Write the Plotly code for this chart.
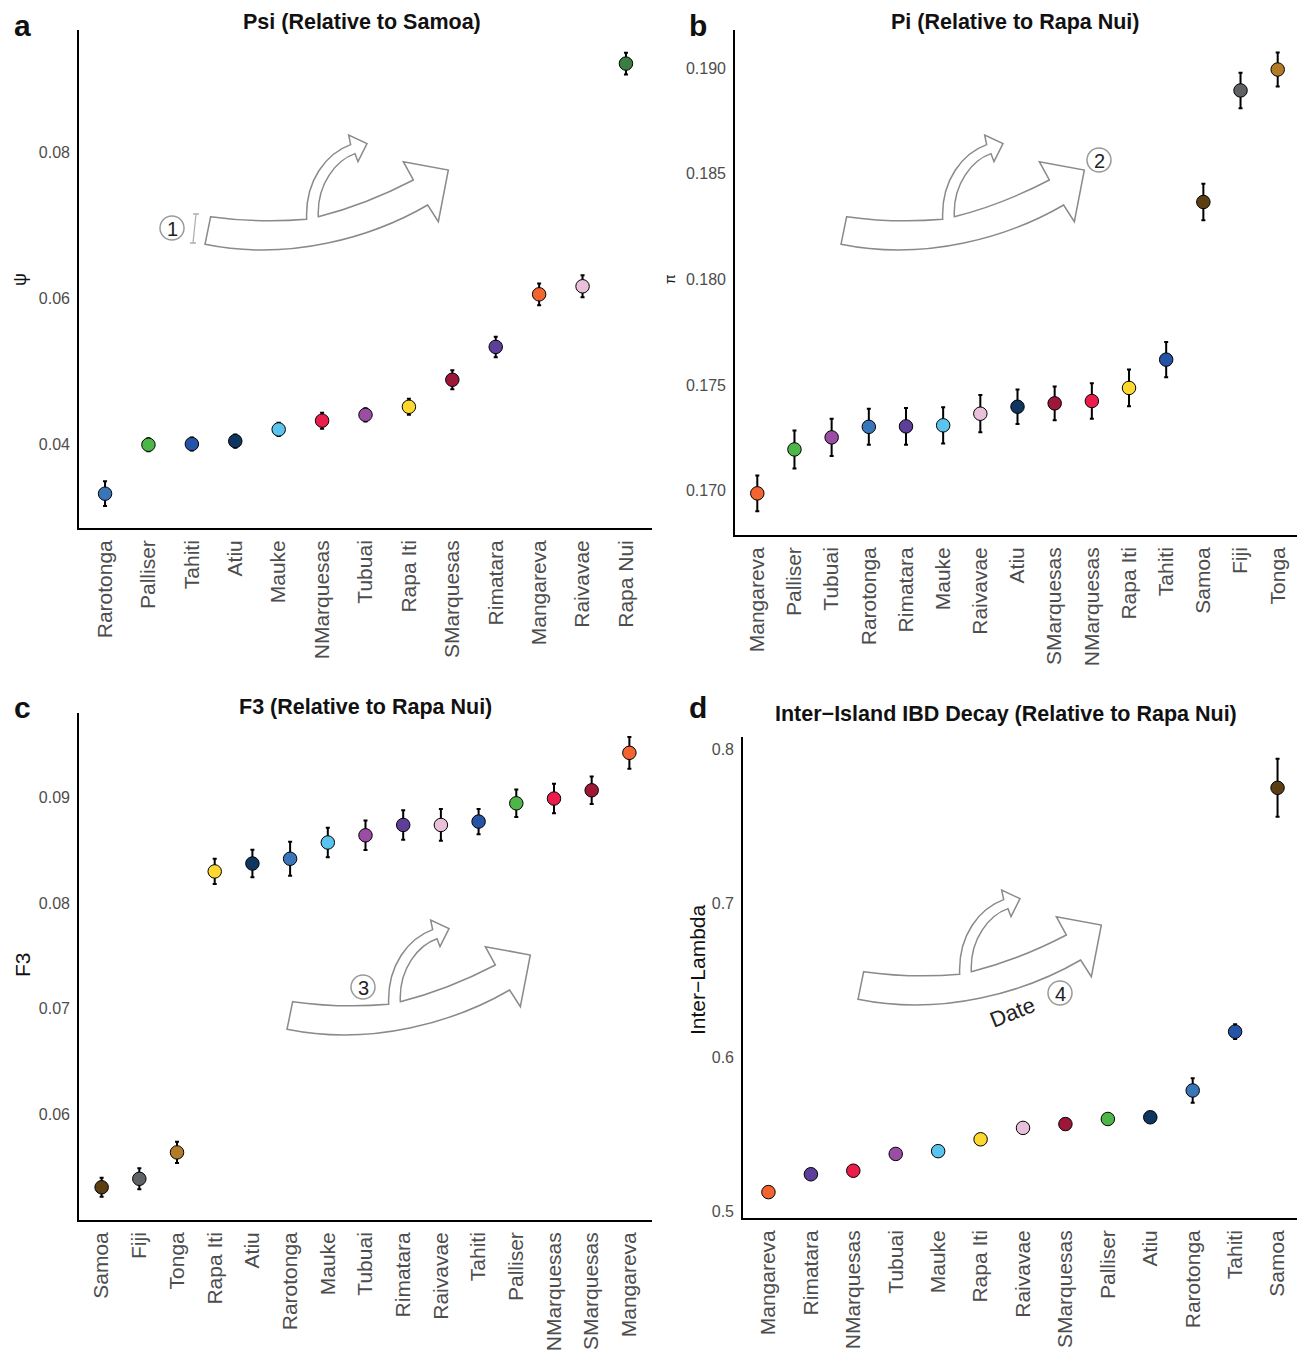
import plotly.graph_objects as go

# reference canvas (screenshot) size; the page body adds an 8px margin
REF_W, REF_H = 1305, 1353
OFF = 8
W, H = REF_W - OFF, REF_H - OFF

# ---------------- data ----------------
psi_islands = ["Rarotonga", "Palliser", "Tahiti", "Atiu", "Mauke", "NMarquesas", "Tubuai",
               "Rapa Iti", "SMarquesas", "Rimatara", "Mangareva", "Raivavae", "Rapa Nui"]
psi_values = [0.0332, 0.0399, 0.0400, 0.0404, 0.0420, 0.0432, 0.0440,
              0.0451, 0.0488, 0.0533, 0.0605, 0.0616, 0.0921]
psi_err = [0.0017, 0.0009, 0.0009, 0.0009, 0.0009, 0.0011, 0.0009,
           0.0011, 0.0013, 0.0014, 0.0015, 0.0015, 0.0015]

pi_islands = ["Mangareva", "Palliser", "Tubuai", "Rarotonga", "Rimatara", "Mauke", "Raivavae",
              "Atiu", "SMarquesas", "NMarquesas", "Rapa Iti", "Tahiti", "Samoa", "Fiji", "Tonga"]
pi_values = [0.16987, 0.17195, 0.17252, 0.17302, 0.17304, 0.17309, 0.17364,
             0.17397, 0.17413, 0.17424, 0.17486, 0.17620, 0.18366, 0.18894, 0.18993]
pi_err = [0.00085, 0.00090, 0.00088, 0.00085, 0.00087, 0.00086, 0.00088,
          0.00082, 0.00080, 0.00084, 0.00087, 0.00083, 0.00086, 0.00084, 0.00080]

f3_islands = ["Samoa", "Fiji", "Tonga", "Rapa Iti", "Atiu", "Rarotonga", "Mauke", "Tubuai",
              "Rimatara", "Raivavae", "Tahiti", "Palliser", "NMarquesas", "SMarquesas", "Mangareva"]
f3_values = [0.0531, 0.0539, 0.0564, 0.0830, 0.08375, 0.0842, 0.08574, 0.08642,
             0.0874, 0.0874, 0.08772, 0.08945, 0.0899, 0.09068, 0.09423]
f3_err = [0.0009, 0.0010, 0.0010, 0.0012, 0.0013, 0.0016, 0.0014, 0.0014,
          0.0014, 0.0015, 0.0012, 0.0013, 0.0014, 0.0013, 0.0015]

ibd_islands = ["Mangareva", "Rimatara", "NMarquesas", "Tubuai", "Mauke", "Rapa Iti", "Raivavae",
               "SMarquesas", "Palliser", "Atiu", "Rarotonga", "Tahiti", "Samoa"]
ibd_values = [0.5123, 0.5239, 0.5262, 0.5371, 0.5389, 0.5466, 0.5540,
              0.5565, 0.5598, 0.5609, 0.5783, 0.6165, 0.7748]
ibd_err = [0.0010, 0.0025, 0.0015, 0.0018, 0.0012, 0.0012, 0.0030,
           0.0020, 0.0020, 0.0012, 0.0080, 0.0048, 0.0188]

# ---------------- styles ----------------
island_colors = {
    "Rarotonga": "#3876b9", "Palliser": "#4cb748", "Tahiti": "#2553a5", "Atiu": "#0f365f",
    "Mauke": "#5ac3ee", "NMarquesas": "#ec1c4b", "Tubuai": "#9b4ca3", "Rapa Iti": "#fdd82e",
    "SMarquesas": "#9e1638", "Rimatara": "#5d3e98", "Mangareva": "#f26531", "Raivavae": "#e9c0da",
    "Rapa Nui": "#3b7e43", "Samoa": "#5b3f12", "Fiji": "#5e6264", "Tonga": "#b17b28",
}

FONT = "Liberation Sans, Arial, Helvetica, sans-serif"
TICKCOL = "#4d4d4d"


def PX(x):
    return (x - OFF) / W


def PY(y):
    return 1 - (y - OFF) / H


panels = [
    # islands, values, err, xaxis, yaxis, xdom(px), ydom(px top,bottom), yrange, tickvals, fmt
    (psi_islands, psi_values, psi_err, "x", "y", (79, 652), (30, 528), (0.0285, 0.0967),
     [0.04, 0.06, 0.08], ".2f"),
    (pi_islands, pi_values, pi_err, "x2", "y2", (735, 1300), (30, 535), (0.1679, 0.1918),
     [0.170, 0.175, 0.180, 0.185, 0.190], ".3f"),
    (f3_islands, f3_values, f3_err, "x3", "y3", (79, 652), (713, 1220), (0.0500, 0.0980),
     [0.06, 0.07, 0.08, 0.09], ".2f"),
    (ibd_islands, ibd_values, ibd_err, "x4", "y4", (743, 1303), (737, 1218), (0.4955, 0.8078),
     [0.5, 0.6, 0.7, 0.8], ".1f"),
]

fig = go.Figure()
layout_axes = {}
for i, (isl, vals, errs, xa, ya, xd, yd, yr, tv, fmt) in enumerate(panels):
    fig.add_trace(go.Scatter(
        x=isl, y=vals, mode="markers", xaxis=xa, yaxis=ya, showlegend=False,
        marker=dict(size=13.5, color=[island_colors[k] for k in isl],
                    line=dict(color="black", width=1)),
        error_y=dict(type="data", array=errs, visible=True, color="black",
                     thickness=2, width=2),
    ))
    n = len(isl)
    xname = "xaxis" if i == 0 else f"xaxis{i+1}"
    yname = "yaxis" if i == 0 else f"yaxis{i+1}"
    layout_axes[xname] = dict(
        domain=[PX(xd[0]), PX(xd[1])], anchor=ya, type="category",
        categoryorder="array", categoryarray=isl, range=[-0.6, n - 0.4],
        showline=True, linecolor="black", linewidth=1.6, showgrid=False, zeroline=False,
        ticks="", tickangle=-90, tickfont=dict(family=FONT, size=21, color=TICKCOL),
        ticklabelstandoff=2, fixedrange=True,
    )
    layout_axes[yname] = dict(
        domain=[PY(yd[1]), PY(yd[0])], anchor=xa, range=list(yr),
        showline=True, linecolor="black", linewidth=1.6, showgrid=False, zeroline=False,
        ticks="", tickvals=tv, tickformat=fmt,
        tickfont=dict(family=FONT, size=16, color=TICKCOL), ticklabelstandoff=4,
        fixedrange=True,
    )

annotations = []
# panel letters
for letter, (x, y) in zip("abcd", [(22, 8), (698, 8), (22, 690), (698, 690)]):
    annotations.append(dict(text=f"<b>{letter}</b>", x=PX(x), y=PY(y), xref="paper", yref="paper",
                            showarrow=False, font=dict(family=FONT, size=30, color="#111"),
                            xanchor="center", yanchor="top", borderpad=0))
# titles
for txt, (x, y) in zip(["Psi (Relative to Samoa)", "Pi (Relative to Rapa Nui)",
                        "F3 (Relative to Rapa Nui)", "Inter\u2212Island IBD Decay (Relative to Rapa Nui)"],
                       [(362, 22), (1015, 22), (365, 707), (1006, 714)]):
    annotations.append(dict(text=f"<b>{txt}</b>", x=PX(x), y=PY(y), xref="paper", yref="paper",
                            showarrow=False, font=dict(family=FONT, size=21.5, color="#111"),
                            xanchor="center", yanchor="middle"))
# y axis titles
for txt, (x, y), sz in [("\u03c8", (20, 280), 18), ("\u03c0", (670, 279), 14),
                        ("F3", (22, 965), 21), ("Inter\u2212Lambda", (697, 970), 21)]:
    annotations.append(dict(text=txt, x=PX(x), y=PY(y), xref="paper", yref="paper", textangle=-90,
                            showarrow=False, font=dict(family=FONT, size=sz, color="#111"),
                            xanchor="center", yanchor="middle"))

# ---------------- decorative arrows ----------------
# template in local px units (zoomed 3x coordinates / 3)
T = [("M", [(212, 290)]), ("Q", [(355, 310), (500, 298)]),
     ("C", [(495, 180), (560, 100), (632, 74)]), ("L", [(626, 45)]), ("L", [(681, 71)]),
     ("L", [(654, 125)]), ("L", [(645, 101)]), ("C", [(590, 120), (530, 190), (535, 290)]),
     ("Q", [(676, 255), (820, 180)]), ("L", [(790, 125)]), ("L", [(925, 150)]),
     ("L", [(895, 305)]), ("L", [(863, 255)]), ("C", [(700, 350), (450, 425), (195, 373)])]


def arrow_path(ox, oy):
    parts = []
    for cmd, pts in T:
        coords = " ".join(f"{PX(ox + px / 3):.5f},{PY(oy + py / 3):.5f}" for px, py in pts)
        parts.append(f"{cmd} {coords}")
    return " ".join(parts) + " Z"


shapes = []
for ox, oy in [(140, 120), (776, 120), (222, 905), (793, 875)]:
    shapes.append(dict(type="path", xref="paper", yref="paper", path=arrow_path(ox, oy),
                       fillcolor="white", line=dict(color="#8a8a8a", width=1.5), layer="above"))

# bracket next to circled 1
bx, by0, by1 = 196, 214, 243
br = (f"M {PX(bx-3)},{PY(by0)} L {PX(bx+3)},{PY(by0)} M {PX(bx)},{PY(by0)} L {PX(bx-3)},{PY(by1)} "
      f"M {PX(bx-6)},{PY(by1)} L {PX(bx)},{PY(by1)}")
shapes.append(dict(type="path", xref="paper", yref="paper", path=br,
                   line=dict(color="#b0b0b0", width=1.3), layer="above"))

for num, (cx, cy) in zip("1234", [(172, 228), (1099, 160), (363, 987), (1060, 993)]):
    r = 12
    shapes.append(dict(type="circle", xref="paper", yref="paper",
                       x0=PX(cx - r), x1=PX(cx + r), y0=PY(cy + r), y1=PY(cy - r),
                       fillcolor="white", line=dict(color="#9a9a9a", width=1.5), layer="above"))
    annotations.append(dict(text=num, x=PX(cx), y=PY(cy + 1), xref="paper", yref="paper",
                            showarrow=False, font=dict(family=FONT, size=20, color="#222"),
                            xanchor="center", yanchor="middle"))

annotations.append(dict(text="Date", x=PX(1012), y=PY(1012), xref="paper", yref="paper",
                        textangle=-22, showarrow=False,
                        font=dict(family=FONT, size=22, color="#222"),
                        xanchor="center", yanchor="middle"))

fig.update_layout(
    width=W, height=H, margin=dict(l=0, r=0, t=0, b=0, autoexpand=False),
    paper_bgcolor="white", plot_bgcolor="white", showlegend=False,
    annotations=annotations, shapes=shapes, font=dict(family=FONT),
    **layout_axes,
)

fig.write_html("out.html")
